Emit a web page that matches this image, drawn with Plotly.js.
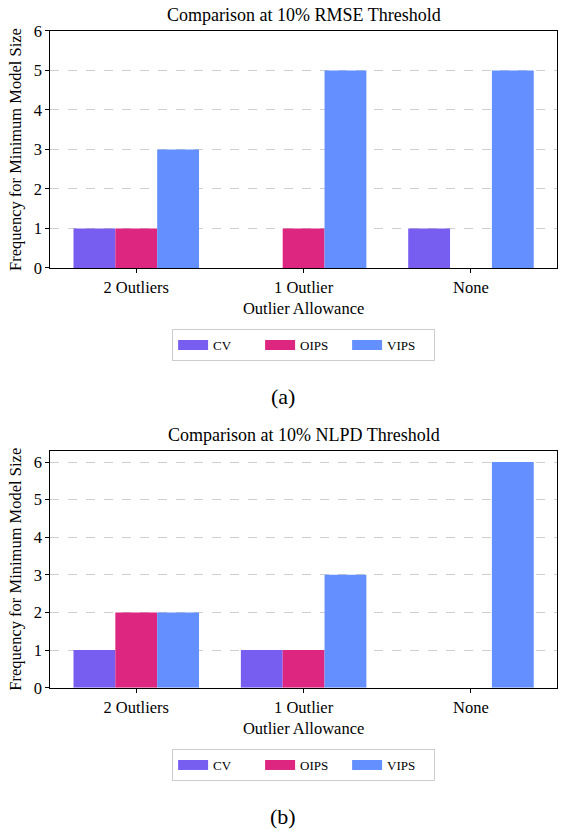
<!DOCTYPE html>
<html>
<head>
<meta charset="utf-8">
<script src="https://cdn.plot.ly/plotly-3.0.1.min.js"></script>
<style>
  html, body { margin: 0; padding: 0; background: #fff; }
  #plot { width: 561px; height: 831px; }
</style>
</head>
<body>
<div id="plot"></div>
<script>
const categories = ['2 Outliers', '1 Outlier', 'None'];
const methods = ['CV', 'OIPS', 'VIPS'];
const colors = ['#785EF0', '#DC267F', '#648FFF'];

// (a) RMSE threshold
const rmseCV = [1, 0, 1];
const rmseOIPS = [1, 1, 0];
const rmseVIPS = [3, 5, 5];

// (b) NLPD threshold
const nlpdCV = [1, 1, 0];
const nlpdOIPS = [2, 1, 0];
const nlpdVIPS = [2, 3, 6];

const serif = 'Liberation Serif, Times New Roman, serif';

function bars(values, i, xa, ya) {
	return {
		type: 'bar',
		x: categories,
		y: values,
		name: methods[i],
		xaxis: xa,
		yaxis: ya,
		showlegend: false,
		marker: {color: colors[i], line: {width: 0}},
		hoverinfo: 'x+y+name'
	};
}

// legend entries only: wide flat swatches like matplotlib patches
function swatch(i, xa, ya, leg) {
	return {
		type: 'scatter',
		mode: 'lines',
		x: [null],
		y: [null],
		name: methods[i],
		xaxis: xa,
		yaxis: ya,
		legend: leg,
		line: {color: colors[i], width: 10},
		hoverinfo: 'skip'
	};
}

const data = [
	bars(rmseCV, 0, 'x', 'y'),
	bars(rmseOIPS, 1, 'x', 'y'),
	bars(rmseVIPS, 2, 'x', 'y'),
	bars(nlpdCV, 0, 'x2', 'y2'),
	bars(nlpdOIPS, 1, 'x2', 'y2'),
	bars(nlpdVIPS, 2, 'x2', 'y2')
];
methods.forEach(function (m, i) { data.push(swatch(i, 'x', 'y', 'legend')); });
methods.forEach(function (m, i) { data.push(swatch(i, 'x2', 'y2', 'legend2')); });

function xAxis(anchor) {
	return {
		domain: [0.090, 0.9924],
		anchor: anchor,
		range: [-0.5125, 2.5125],
		showgrid: false,
		zeroline: false,
		showline: true,
		mirror: true,
		linecolor: '#000',
		linewidth: 1.2,
		ticks: 'outside',
		ticklen: 4,
		tickcolor: '#000',
		tickfont: {family: serif, size: 16.5, color: '#000'},
		title: {text: 'Outlier Allowance', font: {family: serif, size: 16.5, color: '#000'}, standoff: 6}
	};
}

function yAxis(anchor, domain, top) {
	return {
		domain: domain,
		anchor: anchor,
		range: [0, top],
		dtick: 1,
		showgrid: true,
		gridcolor: '#cfcfcf',
		griddash: 'dash',
		gridwidth: 1,
		zeroline: false,
		showline: true,
		mirror: true,
		linecolor: '#000',
		linewidth: 1.2,
		ticks: 'outside',
		ticklen: 4,
		tickcolor: '#000',
		tickfont: {family: serif, size: 16.5, color: '#000'},
		title: {text: 'Frequency for Minimum Model Size', font: {family: serif, size: 16.5, color: '#000'}, standoff: 8}
	};
}

function legendBox(y) {
	return {
		orientation: 'h',
		x: 0.5412,
		xanchor: 'center',
		y: y,
		yanchor: 'middle',
		bgcolor: '#fff',
		bordercolor: '#cccccc',
		borderwidth: 1,
		entrywidth: 42,
		font: {family: serif, size: 13, color: '#000'}
	};
}

const layout = {
	width: 561,
	height: 831,
	autosize: false,
	margin: {l: 0, r: 0, t: 0, b: 0},
	paper_bgcolor: '#fff',
	plot_bgcolor: '#fff',
	font: {family: serif, color: '#000'},
	barmode: 'group',
	bargap: 0.25,
	bargroupgap: 0,
	showlegend: true,
	xaxis: xAxis('y'),
	yaxis: yAxis('x', [0.6775, 0.9627], 6),
	xaxis2: xAxis('y2'),
	yaxis2: yAxis('x2', [0.1724, 0.4576], 6.3),
	legend: legendBox(0.5848),
	legend2: legendBox(0.0794),
	annotations: [
		{text: 'Comparison at 10% RMSE Threshold', xref: 'paper', yref: 'paper', x: 0.5412, y: 0.982,
			xanchor: 'center', yanchor: 'middle', showarrow: false, font: {family: serif, size: 18}},
		{text: 'Comparison at 10% NLPD Threshold', xref: 'paper', yref: 'paper', x: 0.5412, y: 0.4765,
			xanchor: 'center', yanchor: 'middle', showarrow: false, font: {family: serif, size: 18}},
		{text: '(a)', xref: 'paper', yref: 'paper', x: 0.5045, y: 0.5223,
			xanchor: 'center', yanchor: 'middle', showarrow: false, font: {family: serif, size: 22}},
		{text: '(b)', xref: 'paper', yref: 'paper', x: 0.5045, y: 0.018,
			xanchor: 'center', yanchor: 'middle', showarrow: false, font: {family: serif, size: 22}}
	]
};

Plotly.newPlot('plot', data, layout, {displayModeBar: false, staticPlot: true});
</script>
</body>
</html>
